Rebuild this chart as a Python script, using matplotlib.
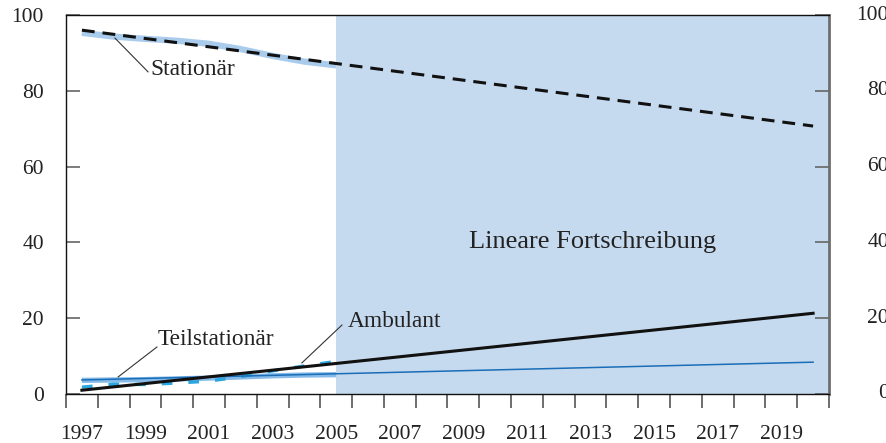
import matplotlib
matplotlib.use("Agg")
import matplotlib.pyplot as plt
import matplotlib.transforms as mtransforms
import numpy as np

plt.rcParams['font.family'] = ['Liberation Serif', 'DejaVu Serif']

# ---- data ----
years = [1997, 1998, 1999, 2000, 2001, 2002, 2003, 2004, 2005]
stationaer = [95.3, 94.3, 93.7, 93.2, 92.4, 91.0, 89.2, 87.7, 86.7]
teilstationaer = [3.6, 3.7, 3.8, 4.0, 4.2, 4.5, 4.8, 5.0, 5.1]
ambulant = [1.8, 2.6, 2.5, 2.9, 3.4, 4.6, 6.1, 7.4, 8.6]

trend_years = [1997, 2020]
stationaer_trend = [96.0, 70.7]
teilstationaer_trend = [3.7, 8.4]
ambulant_trend = [1.0, 21.3]

xlabels = [str(y) for y in range(1997, 2020, 2)]
yticks = [0, 20, 40, 60, 80, 100]

# ---- figure ----
fig = plt.figure(figsize=(8.87, 4.43), dpi=100)
ax = fig.add_axes([66/887, 1-394/443, (829-66)/887, (394-15)/443])
ax.set_xlim(1996.5, 2020.5)
ax.set_ylim(0, 100)

text_c = '#222222'
fs_tick = 15.5
fs_ann = 16.8
fs_big = 19.0

# forecast shading
ax.axvspan(2005, 2020.5, color='#c6daef', zorder=0, lw=0)

# actual data (bands)
ax.plot(years, stationaer, color='#a9cbec', lw=4.5, solid_capstyle='butt', zorder=2)
ax.plot(years, teilstationaer, color='#86bbe9', lw=3.8, solid_capstyle='butt', zorder=2)
ax.plot(years, ambulant, color='#2aa6e0', lw=2.4, dashes=(3.2, 4.8), zorder=3)

# linear trends
ax.plot(trend_years, stationaer_trend, color='#111111', lw=2.2, dashes=(4.2, 2.6), zorder=4)
ax.plot(trend_years, teilstationaer_trend, color='#1a6db8', lw=1.1, zorder=4)
ax.plot(trend_years, ambulant_trend, color='#111111', lw=2.2, zorder=4)

# annotations
ax.plot([1998.04, 1999.08], [93.9, 85.0], color='#333333', lw=0.8, zorder=5)
ax.text(1999.14, 85.6, 'Stationär', fontsize=fs_ann, color=text_c, ha='left', va='center')
ax.plot([1998.14, 1999.36], [4.5, 12.4], color='#333333', lw=0.8, zorder=5)
ax.text(1999.39, 14.4, 'Teilstationär', fontsize=fs_ann, color=text_c, ha='left', va='center')
ax.plot([2003.92, 2005.18], [8.2, 18.2], color='#333333', lw=0.8, zorder=5)
ax.text(2005.37, 19.2, 'Ambulant', fontsize=fs_ann, color=text_c, ha='left', va='center')
ax.text(2004.9 + (595 - 336) / 31.79, 40, 'Lineare Fortschreibung', fontsize=fs_big,
        color=text_c, ha='center', va='center')

# spines
for s in ['left', 'top', 'bottom']:
    ax.spines[s].set_color('#111111')
    ax.spines[s].set_linewidth(1.0)
ax.spines['right'].set_color('#6e6e6e')
ax.spines['right'].set_linewidth(2.0)

# x ticks: minor at year boundaries, major labels at odd years (centered)
ax.set_xticks(np.arange(1996.5, 2021, 1.0), minor=True)
ax.set_xticks(list(range(1997, 2020, 2)))
ax.set_xticklabels(xlabels, fontsize=fs_tick, color=text_c)
ax.tick_params(axis='x', which='major', length=0, pad=22.5)
ax.tick_params(axis='x', which='minor', length=10, width=1.2, color='#555555', direction='out')

# y ticks: inward on both sides
ax.set_yticks(yticks)
ax.set_yticklabels([str(v) for v in yticks], fontsize=fs_tick, color=text_c)
ax.tick_params(axis='y', which='major', direction='in', length=10, width=1.2, color='#666666',
               left=True, right=True, pad=16)

# right-hand labels (cut off by the figure edge, as in the original)
trans = mtransforms.blended_transform_factory(fig.transFigure, ax.transData)
for v in yticks:
    ax.text(889/887, v, str(v), fontsize=fs_tick, color=text_c, ha='right', va='center',
            transform=trans, clip_on=False)

fig.savefig('out.png', dpi=100)
